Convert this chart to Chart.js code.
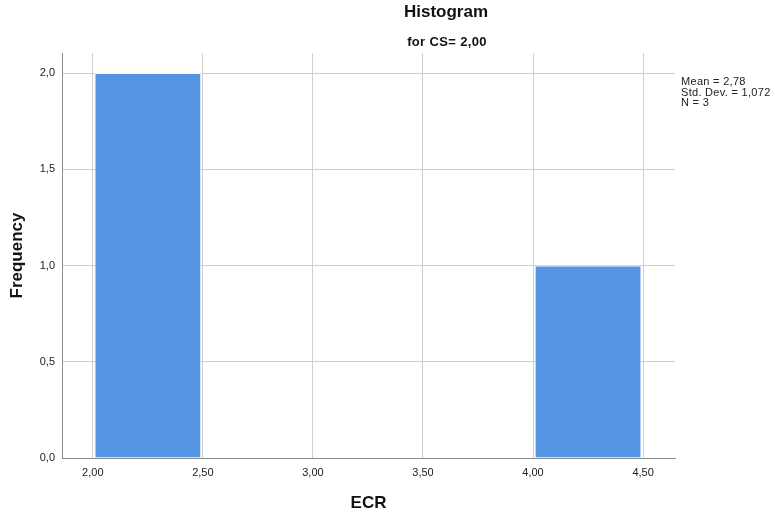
<!DOCTYPE html>
<html>
<head>
<meta charset="utf-8">
<title>Histogram</title>
<script src="https://cdn.jsdelivr.net/npm/chart.js@4.4.1/dist/chart.umd.min.js"></script>
<style>
  html, body { margin: 0; padding: 0; background: #ffffff; }
  #wrap { width: 775px; height: 517px; }
</style>
</head>
<body>
<div id="wrap"><canvas id="hist" width="775" height="517"></canvas></div>
<script>
// Bin centres (bin width 0,5) and the count in each bin
const binCenters = [2.25, 2.75, 3.25, 3.75, 4.25];
const frequencies = [2, 0, 0, 0, 1];

// Axis ticks and their labels (comma decimal separator)
const xTickValues = [2.0, 2.5, 3.0, 3.5, 4.0, 4.5];
const xTickLabels = ['2,00', '2,50', '3,00', '3,50', '4,00', '4,50'];
const yTickValues = [0, 0.5, 1.0, 1.5, 2.0];
const yTickLabels = ['0,0', '0,5', '1,0', '1,5', '2,0'];

// Summary statistics shown to the right of the plot
const statLines = ['Mean = 2,78', 'Std. Dev. = 1,072', 'N = 3'];

const titleText = 'Histogram';
const subtitleText = 'for CS= 2,00';
const xTitle = 'ECR';
const yTitle = 'Frequency';

const FONT = "'Liberation Sans', Arial, Helvetica, sans-serif";
Chart.defaults.font.family = FONT;

const textPlugin = {
  id: 'histText',
  afterDraw(chart) {
    const ctx = chart.ctx;
    const area = chart.chartArea;
    ctx.save();
    ctx.fillStyle = '#111111';
    ctx.textAlign = 'center';
    ctx.textBaseline = 'alphabetic';
    ctx.font = 'bold 17px ' + FONT;
    ctx.fillText(titleText, 446, 17);
    ctx.font = 'bold 13px ' + FONT;
    ctx.letterSpacing = '0.35px';
    ctx.fillText(subtitleText, 447, 46);
    ctx.letterSpacing = '0px';

    ctx.font = 'bold 17px ' + FONT;
    ctx.fillText(xTitle, (area.left + area.right) / 2, 508);

    ctx.save();
    ctx.translate(22, (area.top + area.bottom) / 2);
    ctx.rotate(-Math.PI / 2);
    ctx.fillText(yTitle, 0, 0);
    ctx.restore();

    ctx.textAlign = 'left';
    ctx.fillStyle = '#222222';
    ctx.font = '11px ' + FONT;
    ctx.letterSpacing = '0.3px';
    statLines.forEach((line, i) => {
      ctx.fillText(line, 681, 85 + i * 10.5);
    });
    ctx.restore();
  }
};

new Chart(document.getElementById('hist'), {
  type: 'bar',
  data: {
    datasets: [{
      data: binCenters.map((c, i) => ({ x: c, y: frequencies[i] })),
      backgroundColor: 'rgb(86,148,228)',
      borderColor: '#f4f7fb',
      borderWidth: 1,
      barPercentage: 0.97,
      categoryPercentage: 1.0
    }]
  },
  plugins: [textPlugin],
  options: {
    responsive: false,
    animation: false,
    events: [],
    layout: { padding: { top: 53, right: 100, left: 0, bottom: 0 } },
    plugins: {
      legend: { display: false },
      tooltip: { enabled: false },
      title: { display: false }
    },
    scales: {
      x: {
        type: 'linear',
        min: 1.86,
        max: 4.645,
        offset: false,
        afterBuildTicks(axis) {
          axis.ticks = xTickValues.map(v => ({ value: v }));
        },
        afterFit(axis) { axis.height = 59; },
        ticks: {
          padding: 8,
          color: '#222222',
          font: { size: 11 },
          maxRotation: 0,
          autoSkip: false,
          callback: (v, i) => xTickLabels[i]
        },
        grid: { color: '#cfcfcf', lineWidth: 1, drawTicks: false, offset: false },
        border: { display: true, color: '#8a8a8a', width: 1 }
      },
      y: {
        min: 0,
        max: 2.104,
        afterBuildTicks(axis) {
          axis.ticks = yTickValues.map(v => ({ value: v }));
        },
        afterFit(axis) { axis.width = 62; },
        ticks: {
          padding: 7,
          color: '#222222',
          font: { size: 11 },
          autoSkip: false,
          callback: (v, i) => yTickLabels[i]
        },
        grid: { color: '#cfcfcf', lineWidth: 1, drawTicks: false },
        border: { display: true, color: '#8a8a8a', width: 1 }
      }
    }
  }
});
</script>
</body>
</html>
